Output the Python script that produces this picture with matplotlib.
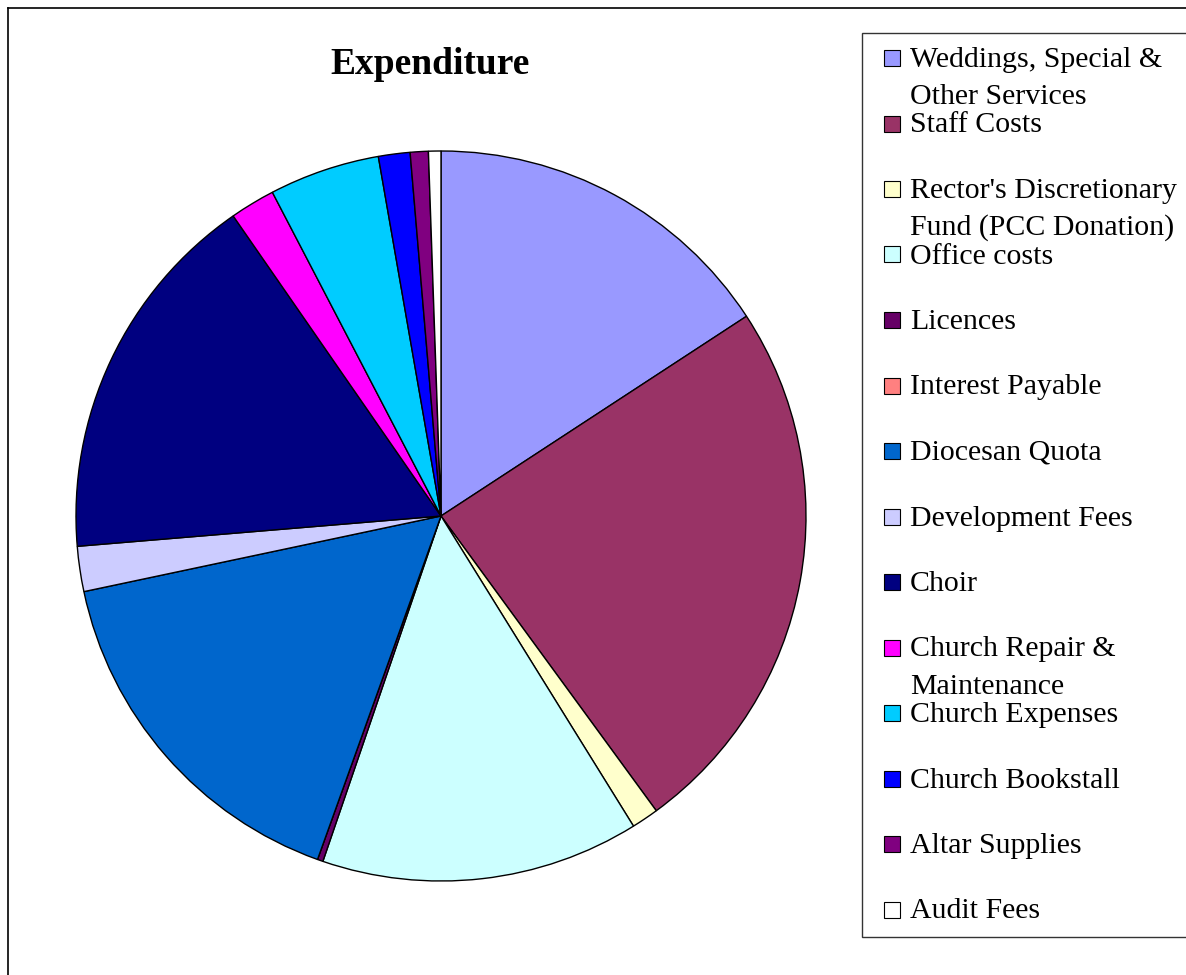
import matplotlib
matplotlib.use('Agg')
import matplotlib.pyplot as plt
from matplotlib.patches import Rectangle
from matplotlib.lines import Line2D

# Expenditure shares (percent)
labels = [
    "Weddings, Special &\nOther Services",
    "Staff Costs",
    "Rector's Discretionary\nFund (PCC Donation)",
    "Office costs",
    "Licences",
    "Interest Payable",
    "Diocesan Quota",
    "Development Fees",
    "Choir",
    "Church Repair &\nMaintenance",
    "Church Expenses",
    "Church Bookstall",
    "Altar Supplies",
    "Audit Fees",
]
values = [15.8, 24.2, 1.2, 14.1, 0.25, 0.0, 16.2, 2.0, 16.7, 2.0, 4.9, 1.4, 0.8, 0.55]
colors = ['#9999FF', '#993366', '#FFFFCC', '#CCFFFF', '#660066', '#FF8080', '#0066CC',
          '#CCCCFF', '#000080', '#FF00FF', '#00CCFF', '#0000FF', '#800080', '#FFFFFF']

W, H = 1186, 975
plt.rcParams['font.family'] = ['Liberation Serif', 'DejaVu Serif']

fig = plt.figure(figsize=(W / 100, H / 100), dpi=100)

# pie axes: centre (441, 516), radius 365 px
cx, cy, r = 441, 516, 365
ax = fig.add_axes([(cx - r) / W, (H - cy - r) / H, 2 * r / W, 2 * r / H])
ax.pie(values, colors=colors, startangle=90, counterclock=False, radius=1.0,
       wedgeprops=dict(edgecolor='black', linewidth=1.0))
ax.set_xlim(-1, 1)
ax.set_ylim(-1, 1)
ax.set_aspect('equal')
ax.axis('off')

fig.text(430 / W, 1 - 64 / H, 'Expenditure', ha='center', va='center',
         fontsize=27, fontweight='bold')

# outer frame (top and left edges visible)
fig.add_artist(Line2D([8 / W, 1.0], [1 - 8 / H, 1 - 8 / H], color='black', lw=1.2))
fig.add_artist(Line2D([8 / W, 8 / W], [0.0, 1 - 8 / H], color='black', lw=1.2))

# legend box
fig.add_artist(Rectangle((862 / W, 1 - 937 / H), (W + 10 - 862) / W, (937 - 33) / H,
                         transform=fig.transFigure, facecolor='white',
                         edgecolor='#333333', lw=1.0))
for i, (lab, col) in enumerate(zip(labels, colors)):
    yc = 58 + 65.5 * i
    fig.add_artist(Rectangle((884 / W, 1 - (yc + 8) / H), 16 / W, 16 / H,
                             transform=fig.transFigure, facecolor=col,
                             edgecolor='black', lw=0.8))
    for k, line in enumerate(lab.split('\n')):
        fig.text(910 / W, 1 - (yc + 9 + 37 * k) / H, line, ha='left',
                 va='baseline', fontsize=21.5)

fig.savefig('out.png', dpi=100)
